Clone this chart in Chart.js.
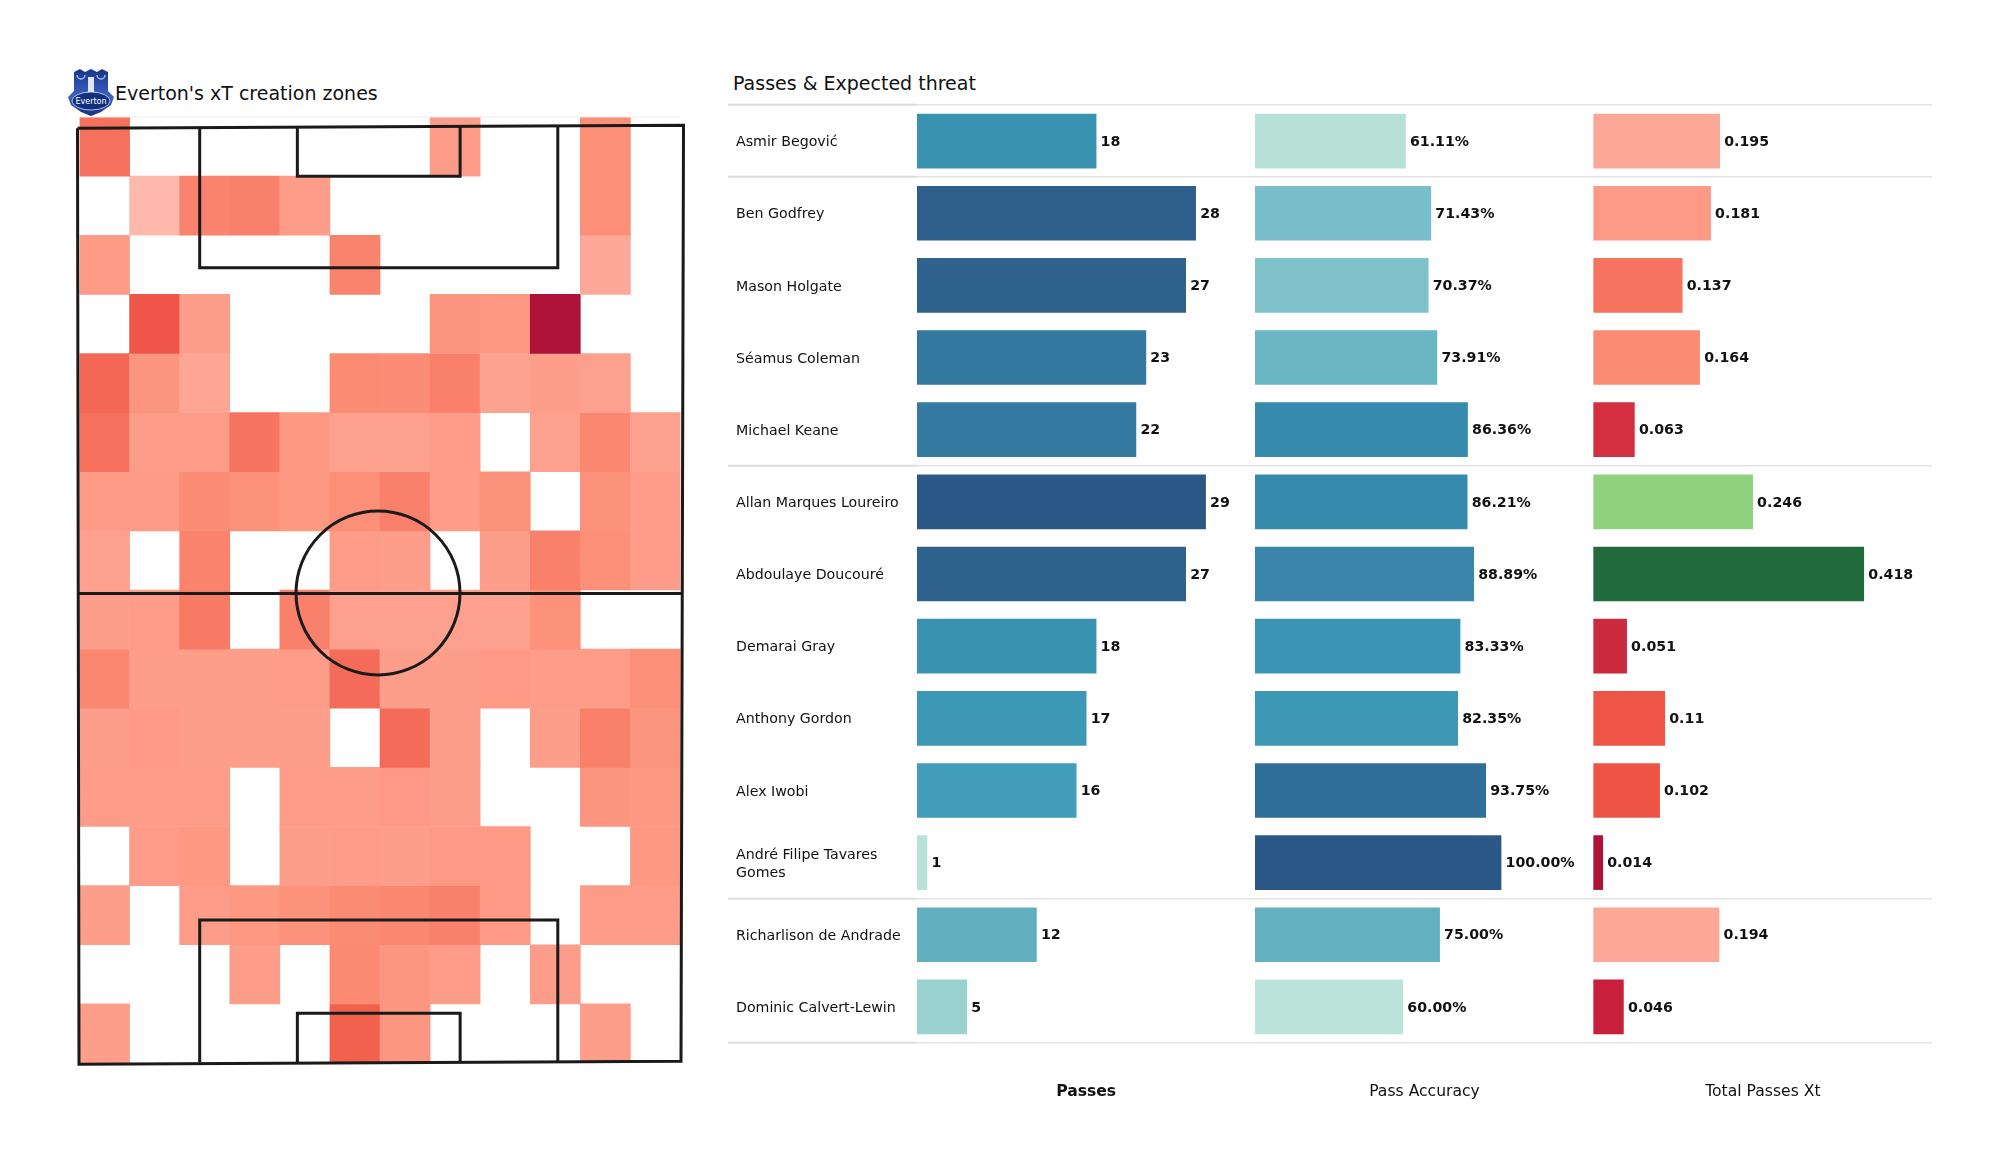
<!DOCTYPE html>
<html>
<head>
<meta charset="utf-8">
<title>Everton xT</title>
<script src="https://cdn.jsdelivr.net/npm/chart.js@4"></script>
<style>
  body { margin: 0; background: #fff; width: 2000px; height: 1175px; position: relative; overflow: hidden; font-family: 'DejaVu Sans', sans-serif; color: #111; }
  canvas { position: absolute; }
  .heading { position: absolute; font-size: 19px; line-height: 24px; white-space: nowrap; }
  #crest { position: absolute; left: 67px; top: 67px; }
</style>
</head>
<body>
<svg id="crest" width="48" height="50" viewBox="0 0 48 50">
  <defs><linearGradient id="g" x1="0" y1="0" x2="0" y2="1"><stop offset="0" stop-color="#17348c"/><stop offset="0.6" stop-color="#3f63c0"/><stop offset="1" stop-color="#12307f"/></linearGradient></defs>
  <path d="M7 5 L13 2 L18 5 L24 2 L30 5 L35 2 L41 5 L41 24 L47 30 L44 38 L34 45 L24 49 L14 45 L4 38 L1 30 L7 24 Z" fill="url(#g)"/>
  <path d="M21 10 h6 v14 l2 3 h-10 l2 -3 Z" fill="#dfe6f5"/>
  <path d="M10 8 a4 4 0 0 0 8 0 M30 8 a4 4 0 0 0 8 0" fill="none" stroke="#b9c6e8" stroke-width="1.3"/>
  <ellipse cx="24" cy="34" rx="19" ry="9" fill="#12307f" stroke="#d5def2" stroke-width="0.8"/>
  <text x="24" y="36.5" font-size="8" text-anchor="middle" fill="#fff" font-family="DejaVu Sans">Everton</text>
</svg>
<div class="heading" style="left:115px; top:81px;">Everton's xT creation zones</div>
<div class="heading" style="left:733px; top:71px;">Passes &amp; Expected threat</div>
<canvas id="zones" width="640" height="980" style="left:60px; top:100px;"></canvas>
<canvas id="table" width="1204" height="1023" style="left:728px; top:90px;"></canvas>

<script>
// pitch grid, shade of each zone (null = empty zone)
var zoneColumns = ['0', '1', '2', '3', '4', '5', '6', '7', '8', '9', '10', '11'];
var zoneRows = [
  [.62, null, null, null, null, null, null, .33, null, null, .42, null],
  [null, .02, .50, .52, .33, null, null, null, null, null, .42, null],
  [.34, null, null, null, null, .50, null, null, null, null, .18, null],
  [null, .80, .30, null, null, null, null, .38, .36, 1, null, null],
  [.68, .38, .20, null, null, .44, .43, .52, .25, .30, .27, null],
  [.62, .33, .33, .60, .36, .27, .28, .33, null, .27, .47, .28],
  [.34, .34, .43, .40, .36, .42, .52, .33, .40, null, .40, .33],
  [.27, null, .50, null, null, .33, .30, null, .30, .52, .42, .33],
  [.30, .33, .56, null, .52, .28, .28, .28, .28, .40, null, null],
  [.47, .30, .30, .30, .32, .65, .30, .30, .35, .33, .33, .42],
  [.30, .35, .30, .30, .30, null, .65, .30, null, .30, .52, .38],
  [.32, .33, .32, null, .33, .33, .35, .30, null, null, .38, .36],
  [null, .32, .36, null, .30, .32, .30, .35, .35, null, null, .36],
  [.30, null, .33, .36, .40, .44, .47, .52, .35, null, .32, .32],
  [null, null, null, .33, null, .45, .37, .33, null, .33, null, null],
  [.30, null, null, null, null, .72, .37, null, null, null, .30, null]
];
var shadeStops = [
  [0, '#ffbbae'], [.2, '#fda695'], [.33, '#fd9c88'], [.45, '#fb8a72'],
  [.6, '#f67460'], [.72, '#f2614e'], [.8, '#ef5548'], [1, '#ae1239']
];

// pitch lines in zone units
var pitchOutline = [[-0.04, .19], [12.06, .14], [12.01, 15.97], [-0.01, 16.02], [-0.04, .19]];
var halfwayLine = [[-0.04, 8.06], [12.04, 8.06]];
var topBox = [[2.4, .17], [2.4, 2.55], [9.55, 2.55], [9.55, .15]];
var topSixYard = [[4.35, .17], [4.35, 1], [7.6, 1], [7.6, .16]];
var bottomBox = [[2.4, 15.99], [2.4, 13.58], [9.55, 13.58], [9.55, 15.98]];
var bottomSixYard = [[4.35, 15.99], [4.35, 15.16], [7.6, 15.16], [7.6, 15.98]];
var topFade = [[0, 0], [12, 0]];
var centreSpot = [[5.96, 8.05]];

// table
var players = ['Asmir Begović', 'Ben Godfrey', 'Mason Holgate', 'Séamus Coleman', 'Michael Keane',
  'Allan Marques Loureiro', 'Abdoulaye Doucouré', 'Demarai Gray', 'Anthony Gordon', 'Alex Iwobi',
  ['André Filipe Tavares', 'Gomes'], 'Richarlison de Andrade', 'Dominic Calvert-Lewin'];
var passes = [18, 28, 27, 23, 22, 29, 27, 18, 17, 16, 1, 12, 5];
var passAccuracy = [61.11, 71.43, 70.37, 73.91, 86.36, 86.21, 88.89, 83.33, 82.35, 93.75, 100, 75, 60];
var passesXt = [0.195, 0.181, 0.137, 0.164, 0.063, 0.246, 0.418, 0.051, 0.11, 0.102, 0.014, 0.194, 0.046];
var columnHeaders = ['Passes', 'Pass Accuracy', 'Total Passes Xt'];

var passesColors = ['#3a92b1', '#2e5e8a', '#2f628c', '#33789f', '#357ba1', '#2c5887', '#2f628c',
  '#3a92b1', '#3d98b6', '#419dba', '#b8e2d8', '#62afc0', '#9ad2cf'];
var accuracyColors = ['#b7e1d7', '#79bec9', '#80c2ca', '#6ab6c3', '#368bad', '#368bad', '#3a85a9',
  '#3b94b4', '#3d98b6', '#2f6e97', '#2c5887', '#63b0c1', '#bbe3d9'];
var xtColors = ['#fca898', '#fd9a86', '#f5735f', '#fb8b72', '#d32f3f', '#8fd17d', '#226b3c',
  '#cb2a3f', '#ef5546', '#ed5445', '#ae1239', '#fca899', '#c8203c'];

// every column gets a third of the table width, these are the value spans of one column
var passesSpan = 34, accuracySpan = 137.7, xtSpan = 0.5236;
var separatorRows = [0, 1, 5, 11];

Chart.defaults.font.family = "'DejaVu Sans', sans-serif";
Chart.defaults.animation = false;

function hexToRgb(h) {
  return [parseInt(h.substr(1, 2), 16), parseInt(h.substr(3, 2), 16), parseInt(h.substr(5, 2), 16)];
}

function shade(v) {
  for (let i = 1; i < shadeStops.length; i++) {
    if (v <= shadeStops[i][0]) {
      let a = shadeStops[i - 1], b = shadeStops[i];
      let t = (v - a[0]) / (b[0] - a[0]);
      let ca = hexToRgb(a[1]), cb = hexToRgb(b[1]);
      return `rgb(${ca.map((c, k) => Math.round(c + (cb[k] - c) * t)).join(',')})`;
    }
  }
  return shadeStops[shadeStops.length - 1][1];
}

function pitchLine(points, color, width) {
  return {
    type: 'scatter',
    xAxisID: 'xPitch',
    data: points.map(p => ({ x: p[0], y: p[1] })),
    showLine: true,
    borderColor: color || '#1a1a1a',
    borderWidth: width || 3,
    pointRadius: 0,
    clip: false,
    order: 1
  };
}

var zoneDatasets = zoneRows.map((row, r) => ({
  type: 'bar',
  xAxisID: 'x',
  data: row.map(v => v === null ? null : [r, r + 1]),
  backgroundColor: row.map(v => v === null ? 'transparent' : shade(v)),
  borderWidth: 0,
  grouped: false,
  categoryPercentage: 1,
  barPercentage: 1,
  order: 2
}));

var lineDatasets = [topFade].map(p => pitchLine(p, '#ececec', 1))
  .concat([pitchOutline, halfwayLine, topBox, topSixYard, bottomBox, bottomSixYard].map(p => pitchLine(p)));

new Chart(document.getElementById('zones'), {
  data: {
    labels: zoneColumns,
    datasets: zoneDatasets.concat(lineDatasets, [{
      type: 'scatter',
      xAxisID: 'xPitch',
      data: centreSpot.map(p => ({ x: p[0], y: p[1] })),
      pointRadius: 82,
      pointBackgroundColor: 'transparent',
      pointBorderColor: '#1a1a1a',
      pointBorderWidth: 3,
      clip: false,
      order: 1
    }])
  },
  options: {
    responsive: false,
    layout: { autoPadding: false, padding: { left: 19.5, right: 19.5, top: 17, bottom: 17 } },
    plugins: { legend: { display: false }, tooltip: { enabled: false } },
    scales: {
      x: { type: 'category', display: false, offset: true },
      xPitch: { type: 'linear', display: false, min: 0, max: 12 },
      y: { type: 'linear', display: false, min: 0, max: 16, reverse: true }
    }
  }
});

// numbers right of the bars
var barValues = {
  id: 'barValues',
  afterDatasetsDraw(chart) {
    const ctx = chart.ctx;
    ctx.save();
    ctx.font = "bold 14.2px 'DejaVu Sans', sans-serif";
    ctx.fillStyle = '#111';
    ctx.textBaseline = 'middle';
    chart.data.datasets.forEach((ds, i) => {
      chart.getDatasetMeta(i).data.forEach((bar, k) => {
        ctx.fillText(ds.format(ds.data[k]), bar.x + 4.5, bar.y + 1);
      });
    });
    ctx.restore();
  }
};

function barSet(values, colors, axis, format) {
  return {
    data: values,
    backgroundColor: colors,
    xAxisID: axis,
    format: format,
    grouped: false,
    barThickness: 54,
    borderWidth: 0
  };
}

function hiddenAxis(column, span) {
  return { type: 'linear', display: false, min: -column * span, max: (3 - column) * span };
}

new Chart(document.getElementById('table'), {
  type: 'bar',
  data: {
    labels: players,
    datasets: [
      barSet(passes, passesColors, 'xPasses', v => String(v)),
      barSet(passAccuracy, accuracyColors, 'xAccuracy', v => v.toFixed(2) + '%'),
      barSet(passesXt, xtColors, 'xThreat', v => String(v))
    ]
  },
  options: {
    indexAxis: 'y',
    responsive: false,
    layout: { padding: { left: 8, top: 15, right: 0, bottom: 0 } },
    plugins: { legend: { display: false }, tooltip: { enabled: false } },
    scales: {
      y: {
        type: 'category',
        afterFit(scale) { scale.width = 181; },
        border: { display: false },
        grid: {
          offset: true,
          lineWidth: 1.5,
          tickLength: 189,
          tickWidth: 2,
          color: ctx => (ctx.index === undefined || separatorRows.includes(ctx.index)) ? '#e3e3e3' : 'transparent',
          tickColor: ctx => (ctx.index === undefined || separatorRows.includes(ctx.index)) ? '#dcdcdc' : 'transparent'
        },
        ticks: {
          crossAlign: 'far',
          autoSkip: false,
          labelOffset: 1.5,
          color: '#111',
          font: { size: 14.2, lineHeight: 1.28 }
        }
      },
      xPasses: hiddenAxis(0, passesSpan),
      xAccuracy: hiddenAxis(1, accuracySpan),
      xThreat: hiddenAxis(2, xtSpan),
      xHead: {
        type: 'linear',
        position: 'bottom',
        min: 0,
        max: 3,
        afterFit(scale) { scale.height = 70; },
        afterBuildTicks(scale) { scale.ticks = [{ value: 0.5 }, { value: 1.5 }, { value: 2.5 }]; },
        border: { display: false },
        grid: { display: false, drawTicks: false },
        ticks: {
          autoSkip: false,
          maxRotation: 0,
          padding: 40,
          color: '#111',
          font: ctx => ({ size: 15.6, weight: ctx.tick && ctx.tick.value === 0.5 ? 'bold' : 'normal' }),
          callback: v => columnHeaders[Math.floor(v)]
        }
      }
    }
  },
  plugins: [barValues]
});
</script>
</body>
</html>
